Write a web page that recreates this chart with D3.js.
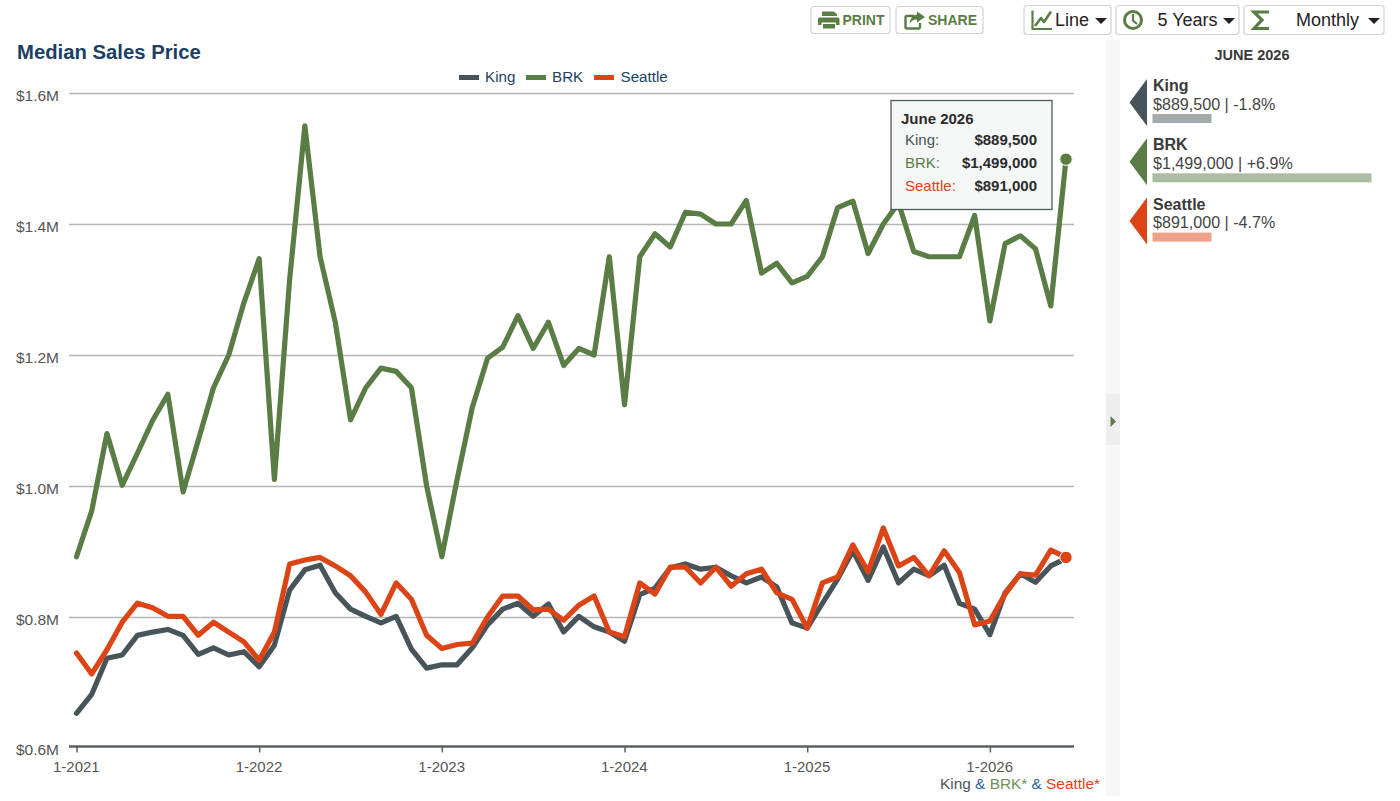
<!DOCTYPE html>
<html><head><meta charset="utf-8">
<script src="https://cdn.jsdelivr.net/npm/d3@7"></script>
<style>
html,body{margin:0;padding:0;background:#fff;overflow:hidden}
svg{display:block;font-family:"Liberation Sans",Arial,sans-serif}
</style></head><body>
<svg id="c" width="1400" height="801"></svg>
<script>
const kingValues=[653,682,737,742,772,777,781,772,743,753,742,747,724,757,841,872,879,837,812,801,791,801,751,722,727,727,753,788,812,821,801,820,777,801,785,777,763,834,844,875,881,873,876,863,852,861,846,791,783,821,858,901,856,907,852,873,863,879,821,812,773,837,866,853,878,889.5];
const brkValues=[892,962,1080,1001,1050,1100,1140,991,1070,1150,1200,1280,1347,1010,1315,1550,1350,1250,1101,1150,1180,1175,1150,1000,892,1010,1120,1195,1212,1260,1210,1250,1184,1210,1200,1350,1124,1350,1385,1365,1418,1415,1400,1400,1436,1325,1340,1310,1320,1350,1425,1435,1355,1400,1432,1358,1350,1350,1350,1413,1252,1370,1382,1362,1275,1499];
const seattleValues=[745,713,750,792,821,814,801,801,772,792,777,762,734,777,881,887,891,878,863,838,804,852,827,772,752,758,760,800,832,832,811,812,795,818,832,777,770,852,835,876,876,852,876,847,866,873,837,827,783,852,861,910,869,936,878,891,863,901,868,788,794,835,866,864,902,891];
const yTicks=[600,800,1000,1200,1400,1600];
const xTickMonths=[0,12,24,36,48,60];
const xTickLabels=["1-2021","1-2022","1-2023","1-2024","1-2025","1-2026"];
const seriesNames=["King","BRK","Seattle"];
const seriesColors=["#47555a","#5a7d45","#dd4415"];
const seriesPrices=["$889,500","$1,499,000","$891,000"];
const seriesChanges=["-1.8%","+6.9%","-4.7%"];
const changeValues=[-1.8,6.9,-4.7];
const seriesData=[kingValues,brkValues,seattleValues];

const svg=d3.select("#c");
const x=d3.scaleLinear().domain([0,65]).range([76.5,1066]);
const y=d3.scaleLinear().domain([600,1600]).range([748,93]);
const txt=(g,xp,yp,s,o={})=>g.append("text").attr("x",xp).attr("y",yp).text(s)
  .attr("font-size",o.size||15).attr("fill",o.fill||"#333").attr("font-weight",o.weight||"normal")
  .attr("text-anchor",o.anchor||"start");

// title
txt(svg,17,59,"Median Sales Price",{size:20.3,weight:"bold",fill:"#1c3f63"});

// grid + y labels
const gy=svg.append("g").attr("transform","translate(1074,0)").call(d3.axisRight(y).tickValues(yTicks.slice(1)).tickSize(-1005).tickFormat(""));
gy.select(".domain").remove();
gy.selectAll("line").attr("stroke","#b5b5b5").attr("stroke-width",1.5);
svg.append("g").selectAll("text").data(yTicks).join("text")
  .attr("x",59).attr("y",d=>d===600?754.5:y(d)+7.5).attr("text-anchor","end")
  .attr("font-size",15.5).attr("fill","#555")
  .text(d=>"$"+(d/1000).toFixed(1)+"M");

// x axis
const gx=svg.append("g").attr("transform","translate(0,746.5)")
  .call(d3.axisBottom(x).tickValues(xTickMonths).tickSize(6).tickFormat((d,i)=>xTickLabels[i]));
gx.select(".domain").attr("d","M69,0H1074").attr("stroke","#5b6062").attr("stroke-width",2.5);
gx.selectAll("line").attr("stroke","#5b6062").attr("stroke-width",1.5);
gx.selectAll("text").attr("font-size",15).attr("fill","#555").attr("font-family",'"Liberation Sans",Arial,sans-serif').attr("dy",0).attr("y",25).attr("dx",-0.7);

// lines
const line=d3.line().x((d,i)=>x(i)).y(d=>y(d)).curve(d3.curveLinear);
[1,0,2].forEach(k=>{
  svg.append("path").datum(seriesData[k]).attr("d",line).attr("fill","none")
    .attr("stroke",seriesColors[k]).attr("stroke-width",5.2).attr("stroke-linejoin","round").attr("stroke-linecap","round");
});
[1,2].forEach(k=>{
  svg.append("circle").attr("cx",x(65)).attr("cy",y(seriesData[k][65])).attr("r",6.2)
    .attr("fill",seriesColors[k]).attr("stroke","#fff").attr("stroke-width",1);
});

// legend
const legX=[459,526,594],legT=[485,552,620.5];
seriesNames.forEach((n,i)=>{
  svg.append("rect").attr("x",legX[i]).attr("y",75).attr("width",20).attr("height",5).attr("fill",seriesColors[i]);
  txt(svg,legT[i],82,n,{size:15.2,fill:"#1c3f63"});
});

// footer
const foot=svg.append("text").attr("x",1100).attr("y",789).attr("text-anchor","end").attr("font-size",15.4);
[["King","#47555a"],[" & ","#2f6496"],["BRK*","#6f8f5b"],[" & ","#2f6496"],["Seattle*","#dd4415"]].forEach(a=>{
  foot.append("tspan").attr("fill",a[1]).attr("xml:space","preserve").text(a[0]);
});

// tooltip
const tip=svg.append("g");
tip.append("rect").attr("x",891).attr("y",100.5).attr("width",161).attr("height",109).attr("fill","#f5f6f6").attr("stroke","#4d5a5a").attr("stroke-width",1.3);
txt(tip,901,124,"June 2026",{size:15,weight:"bold",fill:"#2b2b2b"});
seriesNames.forEach((n,i)=>{
  const yy=145+i*23;
  txt(tip,905,yy,n+":",{size:15,fill:seriesColors[i]});
  txt(tip,1037,yy,seriesPrices[i],{size:15,weight:"bold",anchor:"end",fill:"#2b2b2b"});
});

// right strip
svg.append("rect").attr("x",1106).attr("y",40).attr("width",14).attr("height",756).attr("fill","#f7f7f7");
svg.append("rect").attr("x",1106).attr("y",394).attr("width",14).attr("height",51).attr("fill","#eeeeee");
svg.append("path").attr("d","M1110.5,416 L1116,421.5 L1110.5,427 Z").attr("fill","#5a7d45");

// side panel
txt(svg,1252,60,"JUNE 2026",{size:14.5,weight:"bold",anchor:"middle",fill:"#3a3a3a"});
const barW=d3.scaleLinear().domain([0,6.9]).range([59,219]);
seriesNames.forEach((n,i)=>{
  const t=79+i*59.3;
  svg.append("path").attr("d",`M1147,${t} V${t+47} L1129.5,${t+23.5} Z`).attr("fill",seriesColors[i]);
  txt(svg,1153,t+12,n,{size:16,weight:"bold",fill:"#3a3a3a"});
  txt(svg,1153,t+30.5,seriesPrices[i]+" | "+seriesChanges[i],{size:16.1,fill:"#444"});
  svg.append("rect").attr("x",1152.5).attr("y",t+35).attr("height",9)
    .attr("width",barW(Math.max(0,changeValues[i]))).attr("fill",seriesColors[i]).attr("opacity",.5);
});

// buttons
function btn(bx,by,w,h){
  return svg.append("rect").attr("x",bx).attr("y",by).attr("width",w).attr("height",h).attr("rx",3)
    .attr("fill","#fff").attr("stroke","#d2d2d2").attr("stroke-width",1.2);
}
const G="#5a7d45";
btn(811,6.5,79,27); btn(896,6.5,87,27);
btn(1024,5.5,87,29); btn(1116,5.5,123,29); btn(1244,5.5,140,29);
txt(svg,842.5,24.5,"PRINT",{size:14,weight:"bold",fill:G});
txt(svg,928,24.5,"SHARE",{size:14,weight:"bold",fill:G});
// printer
svg.append("path").attr("fill",G).attr("fill-rule","evenodd")
 .attr("d","M822,16 V11.5 h12 l3,3 V16 Z M819.5,17.5 h18.5 a1.5,1.5 0 0 1 1.5,1.5 V25 h-3.5 v-2.5 h-14.5 V25 h-3.5 V19 A1.5,1.5 0 0 1 819.5,17.5 Z M823,24 h12 V28.5 h-12 Z");
// share
svg.append("path").attr("fill","none").attr("stroke",G).attr("stroke-width",2.4)
 .attr("d","M914,16 H907 a1.5,1.5 0 0 0 -1.5,1.5 V27 a1.5,1.5 0 0 0 1.5,1.5 h11.5 a1.5,1.5 0 0 0 1.5,-1.5 V23");
svg.append("path").attr("fill",G).attr("d","M917,11.5 L925,17 L917,22.5 V19.5 C913,19.5 911,21 909.5,24 C910,19 912.5,15 917,14.5 Z");
// line icon
svg.append("path").attr("fill","none").attr("stroke",G).attr("stroke-width",2.2).attr("d","M1032.5,10.5 V29 H1052");
svg.append("path").attr("fill","none").attr("stroke",G).attr("stroke-width",2.6).attr("stroke-linejoin","round").attr("d","M1035,26 L1041,18 L1044,22 L1051,11.5");
txt(svg,1055,25.5,"Line",{size:18,fill:"#222"});
// clock
svg.append("circle").attr("cx",1133).attr("cy",20).attr("r",8.5).attr("fill","none").attr("stroke",G).attr("stroke-width",3);
svg.append("path").attr("fill","none").attr("stroke",G).attr("stroke-width",2.2).attr("d","M1133,14 V20.5 L1137,24");
txt(svg,1157.5,25.5,"5 Years",{size:18,fill:"#222"});
// sigma
svg.append("path").attr("fill","none").attr("stroke",G).attr("stroke-width",3.2).attr("d","M1269,12 H1254 L1262,20 L1254,28.5 H1269");
txt(svg,1296,25.5,"Monthly",{size:18,fill:"#222"});
// carets
[1101,1229,1374].forEach(cx=>svg.append("path").attr("d",`M${cx-6},18 h12 l-6,6 Z`).attr("fill","#222"));
</script>
</body></html>
